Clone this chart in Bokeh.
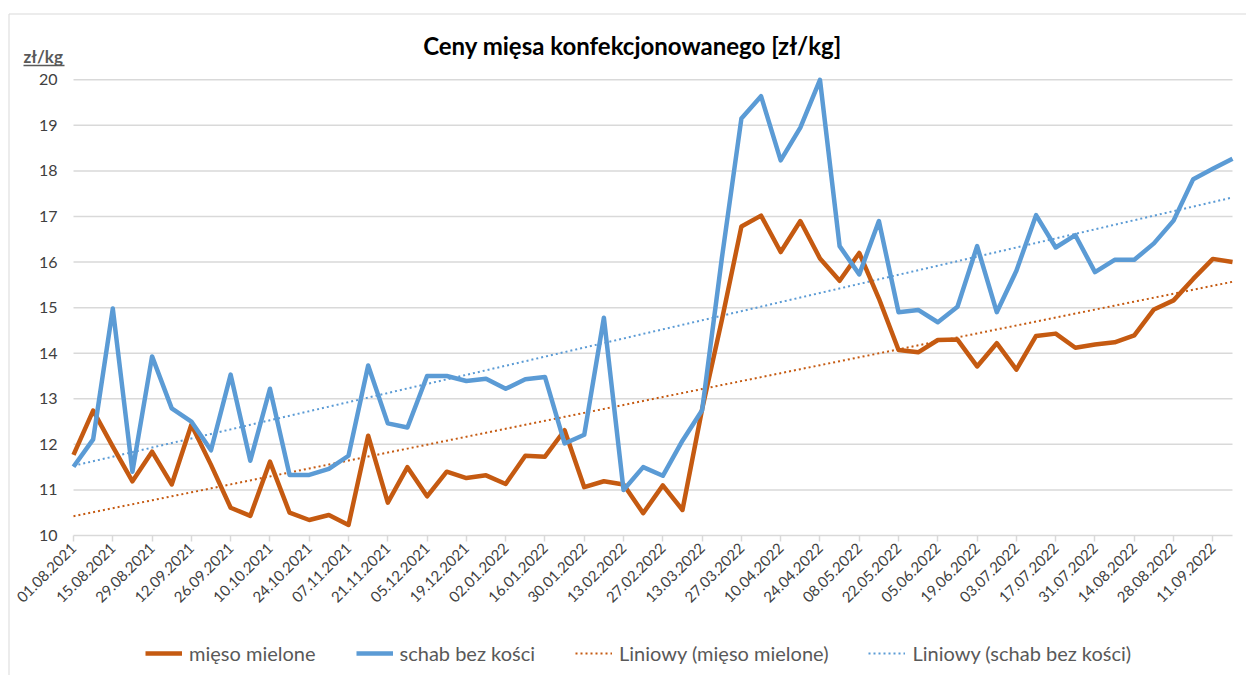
import numpy as np
from bokeh.plotting import figure
from bokeh.models import (Range1d, FixedTicker, Label, Legend, LegendItem, ColumnDataSource)
from bokeh.embed import file_html
from bokeh.resources import INLINE

# ---------------- data ----------------
tick_labels = ["01.08.2021", "15.08.2021", "29.08.2021", "12.09.2021", "26.09.2021",
               "10.10.2021", "24.10.2021", "07.11.2021", "21.11.2021", "05.12.2021",
               "19.12.2021", "02.01.2022", "16.01.2022", "30.01.2022", "13.02.2022",
               "27.02.2022", "13.03.2022", "27.03.2022", "10.04.2022", "24.04.2022",
               "08.05.2022", "22.05.2022", "05.06.2022", "19.06.2022", "03.07.2022",
               "17.07.2022", "31.07.2022", "14.08.2022", "28.08.2022", "11.09.2022"]

mieso_mielone = [11.77, 12.74, 11.95, 11.19, 11.84, 11.12, 12.43, 11.55, 10.61, 10.43,
                 11.62, 10.50, 10.34, 10.45, 10.23, 12.19, 10.72, 11.50, 10.86, 11.40,
                 11.26, 11.32, 11.13, 11.75, 11.73, 12.31, 11.06, 11.19, 11.12, 10.49,
                 11.10, 10.56, 12.77, 14.72, 16.78, 17.02, 16.22, 16.90, 16.08, 15.59,
                 16.20, 15.20, 14.07, 14.02, 14.29, 14.30, 13.71, 14.22, 13.64, 14.38,
                 14.43, 14.12, 14.19, 14.24, 14.39, 14.96, 15.16, 15.63, 16.07, 16.00]

schab_bez_kosci = [11.51, 12.11, 14.98, 11.40, 13.93, 12.79, 12.50, 11.87, 13.53, 11.64,
                   13.22, 11.33, 11.33, 11.46, 11.75, 13.73, 12.46, 12.37, 13.50, 13.50,
                   13.39, 13.44, 13.22, 13.43, 13.48, 12.02, 12.21, 14.78, 11.00, 11.50,
                   11.31, 12.08, 12.75, 16.07, 19.15, 19.64, 18.23, 18.95, 20.00, 16.35,
                   15.73, 16.90, 14.90, 14.95, 14.68, 15.02, 16.35, 14.90, 15.81, 17.03,
                   16.32, 16.59, 15.78, 16.05, 16.05, 16.41, 16.91, 17.82, 18.05, 18.27]

y_ticks = [10, 11, 12, 13, 14, 15, 16, 17, 18, 19, 20]

title_text = "Ceny mięsa konfekcjonowanego [zł/kg]"
unit_text = "zł/kg"
series_names = ["mięso mielone", "schab bez kości",
                "Liniowy (mięso mielone)", "Liniowy (schab bez kości)"]

ORANGE = "#C55A11"
BLUE = "#5B9BD5"
GRID = "#D9D9D9"
FONT = "Lato"

n = len(mieso_mielone)
x = np.arange(n)
# linear (least squares) trend lines, as in Excel "Liniowy"
trend_o = np.polyval(np.polyfit(x, mieso_mielone, 1), x)
trend_b = np.polyval(np.polyfit(x, schab_bez_kosci, 1), x)

src = ColumnDataSource(dict(x=x, o=mieso_mielone, b=schab_bez_kosci, to=trend_o, tb=trend_b))

# ---------------- layout geometry (picture pixels) ----------------
W, H = 1246, 675
PX_LEFT, PX_RIGHT = 73.0, 1232.0      # first / last category
PY_TOP, PY_BOT = 79.3, 535.0          # value 20 / value 10
xs = (PX_RIGHT - PX_LEFT) / (n - 1)
ys = (PY_BOT - PY_TOP) / (y_ticks[-1] - y_ticks[0])


def X(page_x):
    return (page_x - PX_LEFT) / xs


def Y(page_y):
    return y_ticks[0] + (PY_BOT - page_y) / ys


p = figure(width=W, height=H, output_backend="svg", toolbar_location=None, title=None,
           x_range=Range1d(X(0), X(W)), y_range=Range1d(Y(H), Y(0)),
           min_border=0, min_border_left=0, min_border_right=0,
           min_border_top=0, min_border_bottom=0)
p.outline_line_color = None
p.background_fill_color = "white"
p.border_fill_color = "white"
p.xgrid.grid_line_color = None
p.ygrid.grid_line_color = None

# x axis fixed at value 10
p.xaxis.fixed_location = y_ticks[0]
p.xaxis.bounds = (0, n - 1)
p.xaxis.ticker = FixedTicker(ticks=list(range(0, n, 2)))
p.xaxis.major_label_overrides = {i * 2: lab for i, lab in enumerate(tick_labels)}
p.xaxis.major_label_orientation = np.pi / 4
p.xaxis.major_label_text_font = FONT
p.xaxis.major_label_text_font_size = "15px"
p.xaxis.major_label_text_color = "#404040"
p.xaxis.axis_line_color = GRID
p.xaxis.axis_line_width = 1.5
p.xaxis.major_tick_line_color = GRID
p.xaxis.major_tick_line_width = 1.5
p.xaxis.major_tick_out = 6
p.xaxis.major_tick_in = 0
p.xaxis.minor_tick_line_color = None
p.xaxis.major_label_standoff = 4

# y axis fixed at first category
p.yaxis.fixed_location = 0
p.yaxis.ticker = FixedTicker(ticks=y_ticks)
p.yaxis.axis_line_color = None
p.yaxis.major_tick_line_color = None
p.yaxis.major_tick_out = 0
p.yaxis.major_tick_in = 0
p.yaxis.minor_tick_line_color = None
p.yaxis.major_label_text_font = FONT
p.yaxis.major_label_text_font_size = "16px"
p.yaxis.major_label_text_color = "#404040"
p.yaxis.major_label_standoff = 16

# horizontal gridlines from the y ticks
grid_vals = y_ticks[1:]
p.segment(x0=[0] * len(grid_vals), x1=[n - 1] * len(grid_vals), y0=grid_vals, y1=grid_vals,
          line_color=GRID, line_width=1.5)

# chart border (left and top edges visible)
p.quad(left=[X(8.5)], right=[X(1300)], top=[Y(13.5)], bottom=[Y(760)],
       fill_color=None, line_color=GRID, line_width=1)

# lines
r_to = p.line("x", "to", source=src, line_color=ORANGE, line_width=2, line_dash="2 3")
r_tb = p.line("x", "tb", source=src, line_color=BLUE, line_width=2, line_dash="2 3")
r_o = p.line("x", "o", source=src, line_color=ORANGE, line_width=4.5, line_join="round")
r_b = p.line("x", "b", source=src, line_color=BLUE, line_width=4.5, line_join="round")

# title and unit label
p.add_layout(Label(x=X(632), y=Y(45), text=title_text,
                   text_align="center", text_baseline="middle",
                   text_font=FONT, text_font_style="bold", text_font_size="24px",
                   text_color="#000000"))
p.add_layout(Label(x=X(23), y=Y(56), text=unit_text,
                   text_align="left", text_baseline="middle",
                   text_font=FONT, text_font_style="bold", text_font_size="17px",
                   text_color="#595959"))
p.segment(x0=[X(23)], x1=[X(64)], y0=[Y(65)], y1=[Y(65)],
          line_color="#595959", line_width=1.3)

legend = Legend(items=[LegendItem(label=series_names[0], renderers=[r_o]),
                       LegendItem(label=series_names[1], renderers=[r_b]),
                       LegendItem(label=series_names[2], renderers=[r_to]),
                       LegendItem(label=series_names[3], renderers=[r_tb])],
                orientation="horizontal", location=(145, 10),
                label_text_font=FONT, label_text_font_size="20px", label_text_color="#595959",
                glyph_width=37, glyph_height=18, label_standoff=7, spacing=40,
                padding=0, margin=0, border_line_color=None, background_fill_alpha=0)
p.add_layout(legend, "center")

open("out.html", "w").write(file_html(p, INLINE))
